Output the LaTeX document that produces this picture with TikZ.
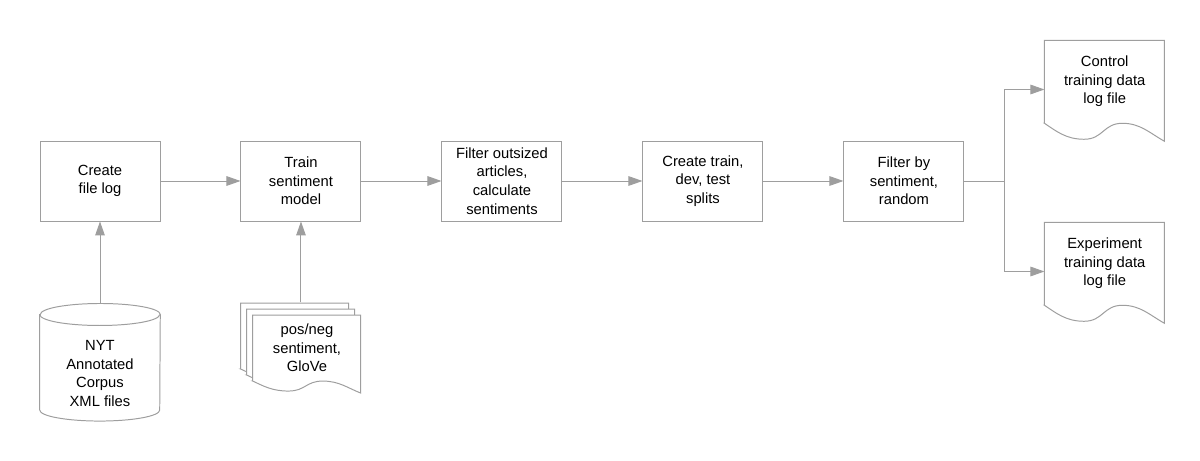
\documentclass[tikz,border=0pt]{standalone}
\usepackage{fontspec}
\setmainfont{Liberation Sans}
\usetikzlibrary{shapes,arrows.meta,positioning,backgrounds}

\definecolor{linegray}{HTML}{9E9E9E}

% sheet with a wavy lower edge: #1 lower left corner, #2 width, #3 height, #4 wave depth
\newcommand{\docoutline}[4]{%
  \path[sheet] #1 -- ++(0,#3) -- ++(#2,0) -- ++(0,{-#3-#4-0.05})
    .. controls +({-0.12*#2},{0.5*#4}) and +({0.15*#2},0) .. ++({-0.35*#2},{#4+0.05})
    .. controls +({-0.16*#2},0) and +({0.16*#2},0) .. ++({-0.32*#2},{-#4})
    .. controls +({-0.15*#2},0) and +({0.1*#2},{-0.5*#4}) .. ++({-0.33*#2},{#4})
    -- cycle;}

\begin{document}
\begin{tikzpicture}[node distance=2cm, font=\fontsize{10.5}{13.2}\selectfont]
    % Define block styles
    \tikzstyle{block} = [rectangle, draw=linegray, line width=0.7pt, align=center, minimum width=3cm, minimum height=2cm, inner sep=2pt]
    \tikzstyle{textonly} = [align=center, inner sep=0pt]
    \tikzstyle{sheet} = [draw=linegray, fill=white, line width=0.7pt]
    \tikzstyle{line} = [draw=linegray, line width=0.7pt, -{Triangle[length=0.35cm, width=0.24cm]}]

    \useasboundingbox (0,0) rectangle (30,-11.525);

    % Nodes
    \node [block] (logbox) at (2.5,-4.525) {Create\\file log};
    \node [block, right=2cm of logbox] (trainbox) {Train\\sentiment\\model};
    \node [block, right=2cm of trainbox] (scorebox) {Filter outsized\\articles,\\calculate\\sentiments};
    \node [block, right=2cm of scorebox] (splitbox) {Create train,\\dev, test\\splits};
    \node [block, right=2cm of splitbox] (pickbox) {Filter by\\sentiment,\\random};

    \node [textonly, minimum width=3cm, minimum height=2.075cm, right=2cm of pickbox, yshift=2.4875cm] (ctrl) {Control\\training data\\log file};
    \node [textonly, minimum width=3cm, minimum height=2.075cm, right=2cm of pickbox, yshift=-2.0625cm] (expt) {Experiment\\training data\\log file};
    \node [textonly, minimum width=3cm, minimum height=2.375cm, below=2.6cm of logbox] (corpus) {NYT\\Annotated\\Corpus\\XML files};
    \node [textonly, minimum width=2.7cm, minimum height=1.65cm, below=2.325cm of trainbox, xshift=0.15cm] (lex) {pos/neg\\sentiment,\\GloVe};

    \coordinate (corpus top) at ([yshift=0.55cm]corpus.north);
    \coordinate (lex top) at ([xshift=-0.15cm, yshift=0.3cm]lex.north);
    \coordinate (fork) at ([xshift=1cm]pickbox.east);

    % Shapes behind the texts
    \begin{scope}[on background layer]
      \path[sheet] ([yshift=0.275cm]corpus.north west) -- ([yshift=0.275cm]corpus.south west)
        arc[start angle=180, end angle=360, x radius=1.5cm, y radius=0.275cm]
        -- ([yshift=0.275cm]corpus.north east)
        arc[start angle=0, end angle=180, x radius=1.5cm, y radius=0.275cm] -- cycle;
      \draw[draw=linegray, line width=0.7pt] ([yshift=0.275cm]corpus.north west)
        arc[start angle=180, end angle=360, x radius=1.5cm, y radius=0.275cm];

      \docoutline{([shift={(-0.3,0.3)}]lex.south west)}{2.7}{1.65}{0.25}
      \docoutline{([shift={(-0.15,0.15)}]lex.south west)}{2.7}{1.65}{0.25}
      \docoutline{(lex.south west)}{2.7}{1.65}{0.25}

      \docoutline{(ctrl.south west)}{3}{2.075}{0.4}
      \docoutline{(expt.south west)}{3}{2.075}{0.4}
    \end{scope}

    % Arrows
    \path [line] (logbox.east) -- (trainbox.west);
    \path [line] (trainbox.east) -- (scorebox.west);
    \path [line] (scorebox.east) -- (splitbox.west);
    \path [line] (splitbox.east) -- (pickbox.west);
    \path [line] (corpus top) -- (logbox.south);
    \path [line] (lex top) -- (trainbox.south);
    \draw [draw=linegray, line width=0.7pt] (pickbox.east) -- (fork);
    \path [line] (fork) |- ([yshift=-0.2cm]ctrl.west);
    \path [line] (fork) |- ([yshift=-0.2cm]expt.west);

  \end{tikzpicture}
\end{document}
